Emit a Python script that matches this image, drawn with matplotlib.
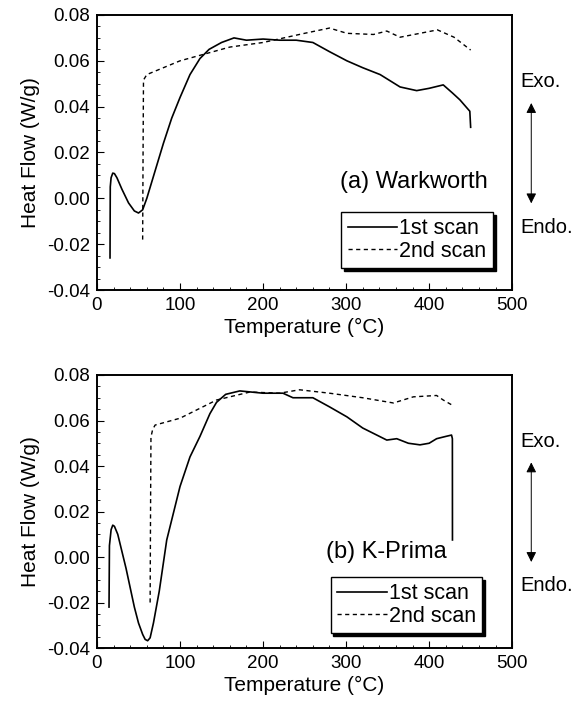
import numpy as np
import matplotlib.pyplot as plt
from matplotlib.ticker import MultipleLocator

plt.rcParams['font.family'] = ['Liberation Sans', 'DejaVu Sans']

# (a) Warkworth
Ta1 = [15.7, 16, 17, 19, 21, 24, 30, 38, 45, 50, 55, 60, 70, 80, 90, 100, 112, 124, 135, 150, 165, 180,
       200, 220, 240, 260, 280, 301, 320, 341, 365, 385, 400, 417, 428, 437, 449, 450]
Ha1 = [-0.026, 0.005, 0.009, 0.011, 0.0108, 0.009, 0.004, -0.002, -0.0055, -0.0064, -0.005, 0.000,
       0.012, 0.024, 0.035, 0.044, 0.054, 0.061, 0.065, 0.068, 0.070, 0.069, 0.0695, 0.069, 0.069, 0.068,
       0.064, 0.060, 0.057, 0.054, 0.0486, 0.047, 0.048, 0.0495, 0.046, 0.043, 0.038, 0.031]
Ta2 = [55, 55.5, 56, 60, 80, 100, 130, 160, 200, 250, 280, 301, 333, 349, 365, 389, 410, 430, 450]
Ha2 = [-0.018, 0.020, 0.0516, 0.054, 0.057, 0.060, 0.063, 0.066, 0.068, 0.072, 0.0743, 0.072, 0.0715,
       0.073, 0.0703, 0.072, 0.0735, 0.0703, 0.0647]

# (b) K-Prima
Tb1 = [14.5, 15, 17, 19, 21, 25, 35, 45, 50, 55, 58, 61, 64, 68, 75, 84, 100, 112, 124, 136, 144, 155,
       172, 200, 224, 236, 260, 280, 301, 320, 349, 361, 375, 389, 400, 409, 420, 427, 428, 428.1]
Hb1 = [-0.022, 0.005, 0.012, 0.014, 0.0135, 0.010, -0.005, -0.022, -0.029, -0.034, -0.0362, -0.0368,
       -0.0355, -0.029, -0.015, 0.0075, 0.031, 0.044, 0.053, 0.063, 0.068, 0.0715, 0.073, 0.072, 0.072,
       0.070, 0.070, 0.066, 0.0616, 0.0567, 0.0514, 0.052, 0.050, 0.0493, 0.050, 0.052, 0.053, 0.0536,
       0.052, 0.0075]
Tb2 = [64, 64.5, 65, 67, 70, 100, 144, 184, 220, 244, 280, 320, 357, 381, 409, 417, 429]
Hb2 = [-0.020, 0.020, 0.0527, 0.056, 0.058, 0.061, 0.069, 0.0725, 0.072, 0.0735, 0.072, 0.070, 0.0677,
       0.0704, 0.071, 0.069, 0.0665]

# series, label, label position, legend anchor, axes rect
panels = [
    (Ta1, Ha1, Ta2, Ha2, '(a) Warkworth', (0.942, 0.393), (0.954, 0.08), [0.1655, 0.5898, 0.7085, 0.389]),
    (Tb1, Hb1, Tb2, Hb2, '(b) K-Prima', (0.843, 0.352), (0.928, 0.055), [0.1655, 0.0834, 0.7085, 0.3862]),
]

fig = plt.figure(figsize=(5.86, 7.07), dpi=100)

for T1, H1, T2, H2, name, txtpos, legpos, pos in panels:
    ax = fig.add_axes(pos)
    ax.plot(T1, H1, 'k-', lw=1.2, label='1st scan')
    ax.plot(T2, H2, 'k--', lw=1.0, dashes=(3, 2.5), label='2nd scan')
    ax.set_xlim(0, 500)
    ax.set_ylim(-0.04, 0.08)
    ax.set_xticks([0, 100, 200, 300, 400, 500])
    ax.set_yticks(np.arange(-0.04, 0.081, 0.02))
    ax.set_yticklabels(['-0.04', '-0.02', '0.00', '0.02', '0.04', '0.06', '0.08'])
    ax.xaxis.set_minor_locator(MultipleLocator(20))
    ax.yaxis.set_minor_locator(MultipleLocator(0.005))
    ax.tick_params(which='both', direction='in', labelsize=13.5)
    ax.tick_params(which='major', length=5, pad=5)
    ax.tick_params(which='minor', length=2.5)
    for s in ax.spines.values():
        s.set_linewidth(1.4)
    ax.set_xlabel('Temperature (°C)', fontsize=15, labelpad=3)
    ax.set_ylabel('Heat Flow (W/g)', fontsize=15, labelpad=5)
    ax.text(txtpos[0], txtpos[1], name, transform=ax.transAxes,
            ha='right', va='center', fontsize=17)
    leg = ax.legend(loc='lower right', bbox_to_anchor=legpos,
                    fontsize=15.5, frameon=True, fancybox=False, shadow={'color': 'k', 'alpha': 1},
                    handlelength=2.3, handletextpad=0.1, borderpad=0.3, labelspacing=0.05,
                    borderaxespad=0)
    leg.get_frame().set_edgecolor('k')
    leg.get_frame().set_linewidth(1.0)

    # Exo / Endo direction marker to the right of the frame
    ax.text(1.02, 0.757, 'Exo.', transform=ax.transAxes, fontsize=14.5, ha='left', va='center')
    ax.text(1.02, 0.228, 'Endo.', transform=ax.transAxes, fontsize=14.5, ha='left', va='center')
    ax.annotate('', xy=(1.046, 0.69), xytext=(1.046, 0.305), xycoords='axes fraction',
                arrowprops=dict(arrowstyle='<|-|>', color='k', lw=0.7, mutation_scale=15))

fig.savefig('out.png', dpi=100)
